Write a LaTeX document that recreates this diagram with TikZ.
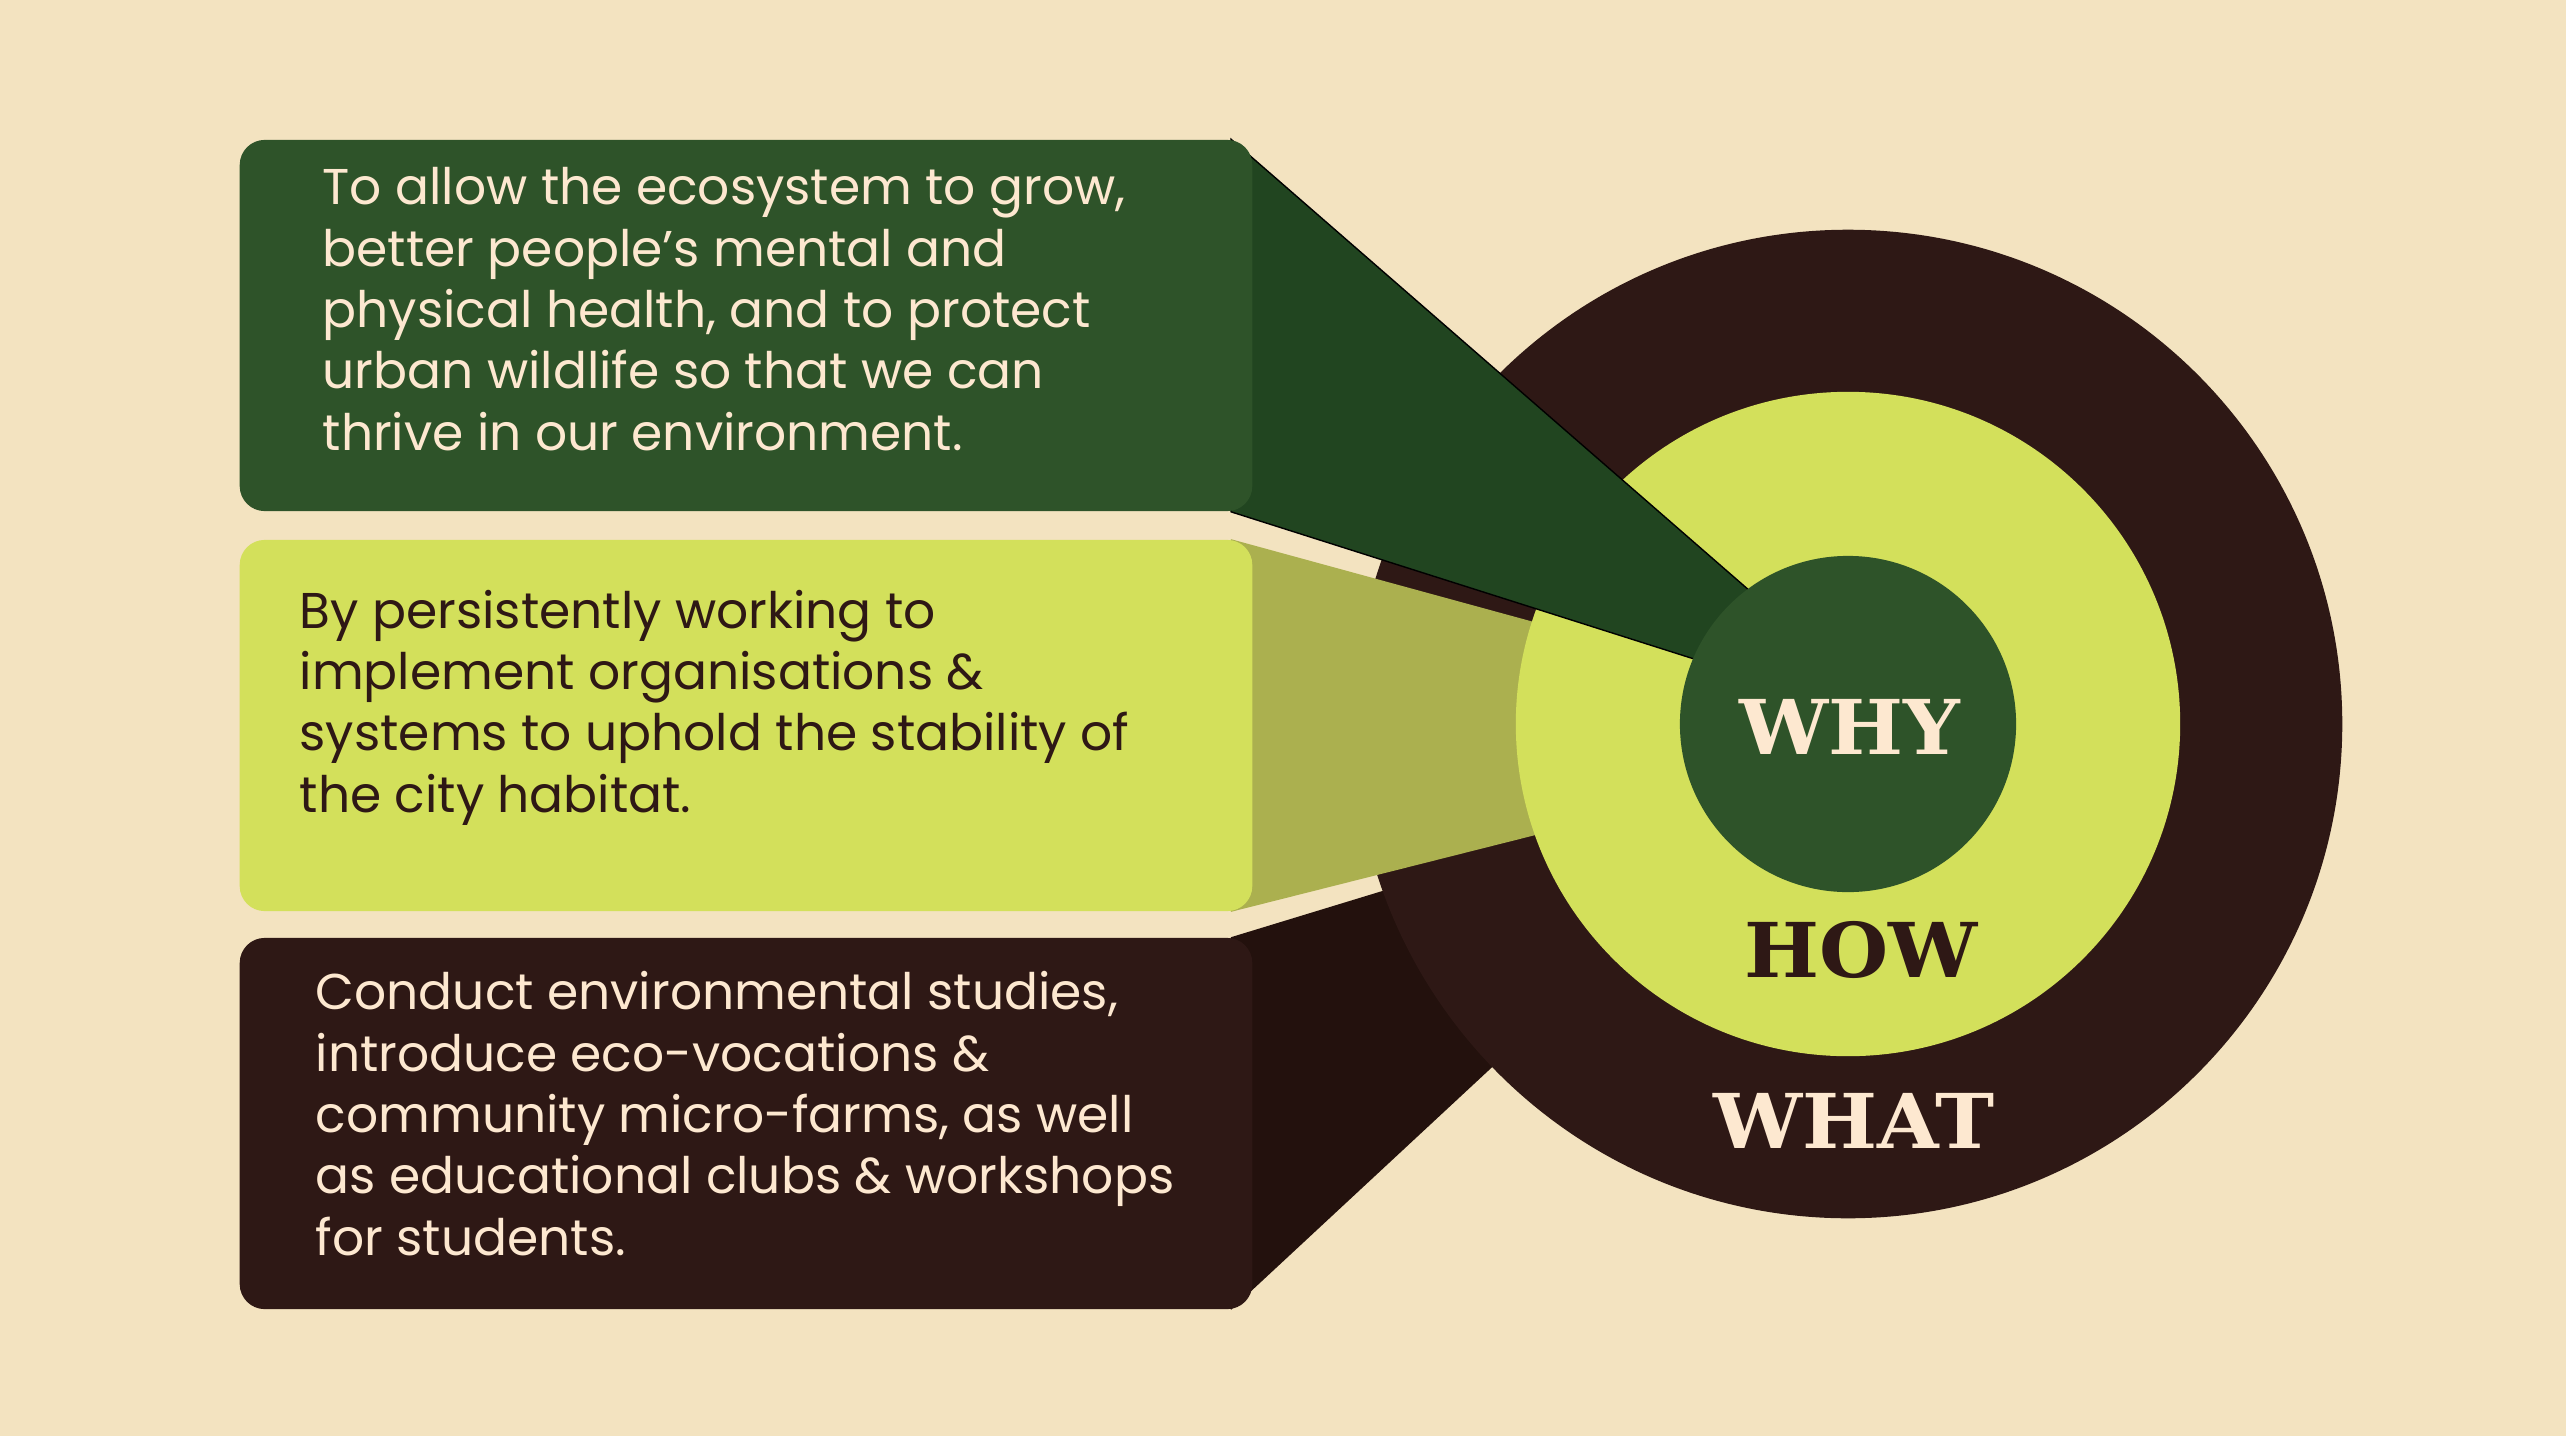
\documentclass[tikz,border=0pt]{standalone}
\usepackage{fontspec}
\setmainfont{Poppins}
\newfontfamily\headfont{DejaVu Serif}[FakeStretch=1.05]
\usetikzlibrary{positioning}

\definecolor{paper}{HTML}{F3E3C0}
\definecolor{leaf}{HTML}{2E5329}
\definecolor{leafdark}{HTML}{214520}
\definecolor{lime}{HTML}{D3E05B}
\definecolor{limedark}{HTML}{ABB04F}
\definecolor{bark}{HTML}{2E1815}
\definecolor{barkdark}{HTML}{23110D}
\definecolor{cream}{HTML}{FDE8D0}

\pgfdeclarelayer{front}
\pgfsetlayers{main,front}

\begin{document}
\begin{tikzpicture}[x=0.01cm, y=-0.01cm,
		panel/.style={rounded corners=0.25cm, minimum width=10.12cm, minimum height=3.71cm, inner sep=0pt},
		ring/.style={circle, inner sep=0pt},
		body/.style={anchor=base west, align=left, inner sep=0pt, font=\fontsize{14.3}{17.43}\selectfont},
		head/.style={anchor=base, inner sep=0pt, font=\headfont\bfseries\fontsize{21.5}{21.5}\selectfont}
	]
		\fill[paper] (0,0) rectangle (2566,1436);
		\useasboundingbox (0,0) rectangle (2566,1436);

		\coordinate (ctr) at (1848,724);
		\coordinate (whytip) at (1905,726);
		\coordinate (howtip) at (1940,733);
		\coordinate (whattip) at (1828,755);

		% the three boxes sit in front of the funnels
		\begin{pgfonlayer}{front}
			\node[panel, fill=leaf] (whybox) at (746,325.5) {};
			\node[panel, fill=lime] (howbox) at (746,725.5) {};
			\node[panel, fill=bark] (whatbox) at (746,1123.5) {};

			% base of a multi-line node = last line
			\node[body, text=cream] (whytext) at (322,450) {To allow the ecosystem to grow,\\better people’s mental and\\physical health, and to protect\\urban wildlife so that we can\\thrive in our environment.};
			\node[body, text=bark] (howtext) at (299,812) {By persistently working to\\implement organisations \&\\systems to uphold the stability of\\the city habitat.};
			\node[body, text=cream] (whattext) at (315,1255) {Conduct environmental studies,\\introduce eco-vocations \&\\community micro-farms, as well\\as educational clubs \& workshops\\for students.};
		\end{pgfonlayer}

		% funnels and rings, back to front
		\fill[barkdark] ([xshift=-0.22cm]whatbox.north east) -- (whattip) -- ([xshift=-0.22cm]whatbox.south east) -- cycle;
		\node[ring, fill=bark, minimum size=9.88cm] (whatring) at (ctr) {};
		\fill[limedark] ([xshift=-0.22cm]howbox.north east) -- (howtip) -- ([xshift=-0.22cm]howbox.south east) -- cycle;
		\node[ring, fill=lime, minimum size=6.64cm] (howring) at (ctr) {};
		\filldraw[fill=leafdark, draw=black, line width=0.4pt] ([xshift=-0.22cm]whybox.north east) -- (whytip) -- ([xshift=-0.22cm]whybox.south east) -- cycle;
		\node[ring, fill=leaf, minimum size=3.36cm] (whyring) at (ctr) {};

		\node[head, text=cream] (why) at (1850,754) {WHY};
		\node[head, text=bark] (how) at (1861,977) {HOW};
		\node[head, text=cream] (what) at (1854,1148) {WHAT};
	\end{tikzpicture}
\end{document}
